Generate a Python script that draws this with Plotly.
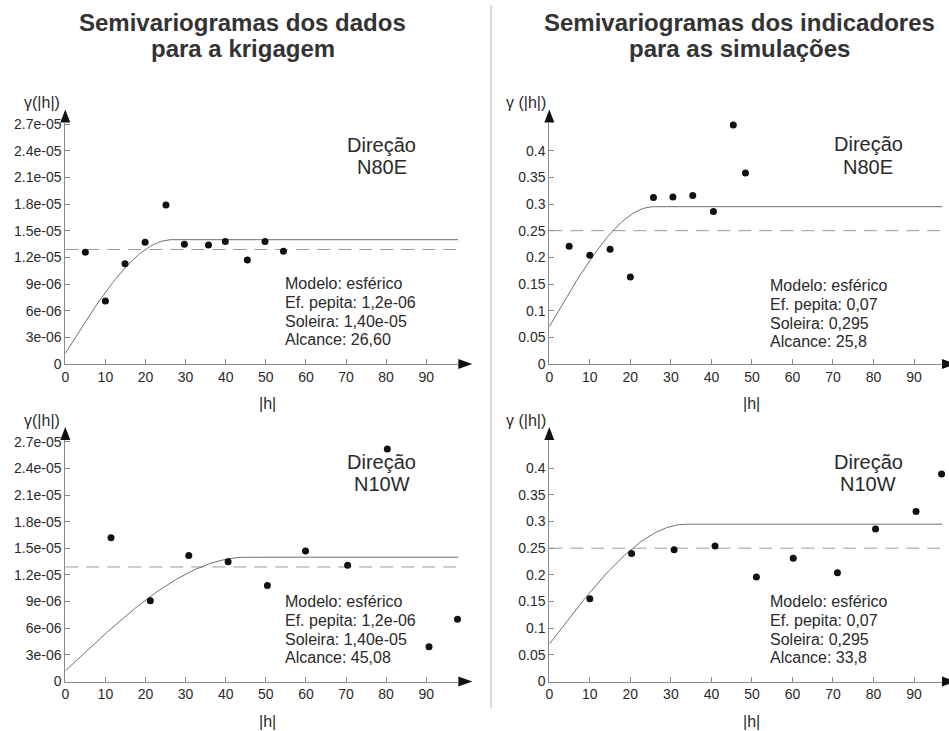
import plotly.graph_objects as go

W, H = 949, 731

# ---------------- data ----------------
x_ticks = [0, 10, 20, 30, 40, 50, 60, 70, 80, 90]
x_tick_labels = ["0", "10", "20", "30", "40", "50", "60", "70", "80", "90"]

y_ticks_dados = [0, 3e-06, 6e-06, 9e-06, 1.2e-05, 1.5e-05, 1.8e-05, 2.1e-05, 2.4e-05, 2.7e-05]
y_labels_dados = ["0", "3e-06", "6e-06", "9e-06", "1.2e-05", "1.5e-05", "1.8e-05", "2.1e-05", "2.4e-05", "2.7e-05"]
y_ticks_ind = [0, 0.05, 0.1, 0.15, 0.2, 0.25, 0.3, 0.35, 0.4]
y_labels_ind = ["0", "0.05", "0.1", "0.15", "0.2", "0.25", "0.3", "0.35", "0.4"]

# top-left: dados, N80E
h_dados_n80e = [5.0, 10.0, 14.9, 19.9, 25.1, 29.7, 35.7, 39.9, 45.4, 49.8, 54.4]
g_dados_n80e = [12.6e-6, 7.1e-6, 11.3e-6, 13.7e-6, 17.9e-6, 13.5e-6, 13.4e-6, 13.8e-6, 11.7e-6, 13.8e-6, 12.7e-6]
# top-right: indicadores, N80E
h_ind_n80e = [4.9, 10.0, 15.0, 20.0, 25.7, 30.5, 35.4, 40.5, 45.4, 48.4]
g_ind_n80e = [0.221, 0.204, 0.215, 0.163, 0.312, 0.313, 0.316, 0.286, 0.448, 0.358]
# bottom-left: dados, N10W
h_dados_n10w = [11.4, 21.2, 30.8, 40.6, 50.4, 59.9, 70.4, 80.3, 90.7, 97.8]
g_dados_n10w = [16.2e-6, 9.1e-6, 14.2e-6, 13.5e-6, 10.8e-6, 14.7e-6, 13.1e-6, 26.2e-6, 3.9e-6, 7.0e-6]
# bottom-right: indicadores, N10W
h_ind_n10w = [10.0, 20.3, 30.8, 40.9, 51.1, 60.2, 71.1, 80.5, 90.5, 96.8]
g_ind_n10w = [0.155, 0.240, 0.247, 0.254, 0.196, 0.231, 0.204, 0.286, 0.319, 0.389]

# spherical model parameters [nugget, sill, range] and sample variance (dashed)
model_dados_n80e = [1.2e-06, 1.40e-05, 26.60]
model_ind_n80e = [0.07, 0.295, 25.8]
model_dados_n10w = [1.2e-06, 1.40e-05, 45.08]
model_ind_n10w = [0.07, 0.295, 33.8]
var_dados = 1.29e-05
var_ind = 0.25

model_text_dados_n80e = ["Modelo: esférico", "Ef. pepita: 1,2e-06", "Soleira: 1,40e-05", "Alcance: 26,60"]
model_text_ind_n80e = ["Modelo: esférico", "Ef. pepita: 0,07", "Soleira: 0,295", "Alcance: 25,8"]
model_text_dados_n10w = ["Modelo: esférico", "Ef. pepita: 1,2e-06", "Soleira: 1,40e-05", "Alcance: 45,08"]
model_text_ind_n10w = ["Modelo: esférico", "Ef. pepita: 0,07", "Soleira: 0,295", "Alcance: 33,8"]

titles_left = ["Semivariogramas dos dados", "para a krigagem"]
titles_right = ["Semivariogramas dos indicadores", "para as simulações"]

# ---------------- helpers ----------------
def px(x):
    return x / W

def py(y):
    return 1 - y / H

def spherical(params, xmax, n=200):
    c0, c, a = params
    hs = [xmax * i / (n - 1) for i in range(n)]
    g = []
    for h in hs:
        if h < a:
            r = h / a
            g.append(c0 + (c - c0) * (1.5 * r - 0.5 * r ** 3))
        else:
            g.append(c)
    return hs, g

FONT = "Liberation Sans, Arial, sans-serif"
TXT = "#2a2a2a"
AXC = "#8a8a8a"

panels = [
    dict(ax="", x0=65.3, x1=458.3, yb=364.0, yt=122.5, xr=98.0, yr=27.2e-6,
         h=h_dados_n80e, g=g_dados_n80e, m=model_dados_n80e, v=var_dados,
         yt_vals=y_ticks_dados, yt_lab=y_labels_dados, ytitle="γ(|h|)",
         dirn="N80E", mtext=model_text_dados_n80e, mx=282.7, my=[283.3, 302.3, 321.2, 340.0],
         dy=[145.0, 167.3], dxc=381.7),
    dict(ax="2", x0=549.3, x1=942.0, yb=364.0, yt=122.5, xr=96.9, yr=(364.0 - 122.5) / 533.3,
         h=h_ind_n80e, g=g_ind_n80e, m=model_ind_n80e, v=var_ind,
         yt_vals=y_ticks_ind, yt_lab=y_labels_ind, ytitle="γ (|h|)",
         dirn="N80E", mtext=model_text_ind_n80e, mx=768.3, my=[285.0, 304.0, 323.3, 341.7],
         dy=[144.0, 166.7], dxc=868.3),
    dict(ax="3", x0=65.3, x1=458.3, yb=681.5, yt=440.0, xr=98.0, yr=27.2e-6,
         h=h_dados_n10w, g=g_dados_n10w, m=model_dados_n10w, v=var_dados,
         yt_vals=y_ticks_dados, yt_lab=y_labels_dados, ytitle="γ(|h|)",
         dirn="N10W", mtext=model_text_dados_n10w, mx=282.7, my=[601.0, 620.0, 639.0, 657.7],
         dy=[461.7, 484.0], dxc=381.7),
    dict(ax="4", x0=549.3, x1=942.0, yb=681.5, yt=440.0, xr=96.9, yr=(681.5 - 440.0) / 533.3,
         h=h_ind_n10w, g=g_ind_n10w, m=model_ind_n10w, v=var_ind,
         yt_vals=y_ticks_ind, yt_lab=y_labels_ind, ytitle="γ (|h|)",
         dirn="N10W", mtext=model_text_ind_n10w, mx=768.3, my=[601.0, 620.0, 639.0, 657.7],
         dy=[461.7, 484.0], dxc=868.3),
]

fig = go.Figure()
layout = dict(
    template="none",
    width=W, height=H, margin=dict(l=0, r=0, t=0, b=0, pad=0, autoexpand=False),
    paper_bgcolor="white", plot_bgcolor="white", showlegend=False,
    font=dict(family=FONT, color=TXT),
)
annotations = []
shapes = []

for p in panels:
    xa = "x" + p["ax"]
    ya = "y" + p["ax"]
    fig.add_trace(go.Scatter(x=[0, p["xr"]], y=[p["v"], p["v"]], mode="lines",
                             line=dict(color="#9a9a9a", width=1, dash="13px,8px"),
                             xaxis=xa, yaxis=ya, hoverinfo="skip", cliponaxis=False))
    hs, gm = spherical(p["m"], p["xr"])
    fig.add_trace(go.Scatter(x=hs, y=gm, mode="lines",
                             line=dict(color="#6f6f6f", width=1),
                             xaxis=xa, yaxis=ya, hoverinfo="skip", cliponaxis=False))
    fig.add_trace(go.Scatter(x=p["h"], y=p["g"], mode="markers",
                             marker=dict(color="#111111", size=7, line=dict(width=0)),
                             xaxis=xa, yaxis=ya, cliponaxis=False))

    xkey = "xaxis" + p["ax"]
    ykey = "yaxis" + p["ax"]
    layout[xkey] = dict(
        domain=[px(p["x0"]), px(p["x1"])], range=[0, p["xr"]], anchor=ya, automargin=False,
        tickvals=x_ticks, ticktext=x_tick_labels, ticks="inside", ticklen=5,
        tickcolor=AXC, showline=True, linecolor=AXC, linewidth=1,
        showgrid=False, zeroline=False, tickfont=dict(size=14, color=TXT),
    )
    layout[ykey] = dict(
        domain=[py(p["yb"]), py(p["yt"])], range=[0, p["yr"]], anchor=xa, automargin=False,
        tickvals=p["yt_vals"], ticktext=p["yt_lab"], ticks="inside", ticklen=5,
        tickcolor=AXC, showline=True, linecolor=AXC, linewidth=1,
        showgrid=False, zeroline=False, tickfont=dict(size=14, color=TXT),
    )

    xe, yb, x0, yt = p["x1"], p["yb"], p["x0"], p["yt"]
    shapes.append(dict(type="path", xref="paper", yref="paper",
                       path=f"M {px(xe)} {py(yb - 5)} L {px(xe + 14)} {py(yb)} L {px(xe)} {py(yb + 5)} Z",
                       fillcolor="#111111", line=dict(width=0)))
    shapes.append(dict(type="path", xref="paper", yref="paper",
                       path=f"M {px(x0 - 5)} {py(yt)} L {px(x0)} {py(yt - 13)} L {px(x0 + 5)} {py(yt)} Z",
                       fillcolor="#111111", line=dict(width=0)))

    annotations.append(dict(text=p["ytitle"], x=px(p["x0"] - 23), y=py(p["yt"] - 20),
                            xref="paper", yref="paper", showarrow=False,
                            font=dict(size=16, color=TXT), xanchor="center", yanchor="middle"))
    annotations.append(dict(text="|h|", x=px((p["x0"] + p["x1"] + 12) / 2), y=py(p["yb"] + 39.5),
                            xref="paper", yref="paper", showarrow=False,
                            font=dict(size=16, color=TXT), xanchor="center", yanchor="middle"))
    for txt, yy in zip(["Direção", p["dirn"]], p["dy"]):
        annotations.append(dict(text=txt, x=px(p["dxc"]), y=py(yy), xref="paper", yref="paper",
                                showarrow=False, font=dict(size=20, color=TXT),
                                xanchor="center", yanchor="middle"))
    for txt, yy in zip(p["mtext"], p["my"]):
        annotations.append(dict(text=txt, x=px(p["mx"]), y=py(yy), xref="paper", yref="paper",
                                showarrow=False, font=dict(size=16, color=TXT),
                                xanchor="left", yanchor="middle"))

for lines, xc in [(titles_left, 243), (titles_right, 739)]:
    for txt, yy in zip(lines, [22, 48]):
        annotations.append(dict(text=f"<b>{txt}</b>", x=px(xc), y=py(yy), xref="paper", yref="paper",
                                showarrow=False, font=dict(size=24, color="#333333"),
                                xanchor="center", yanchor="middle"))

shapes.append(dict(type="line", xref="paper", yref="paper", x0=px(491), x1=px(491),
                   y0=py(5), y1=py(708), line=dict(color="#cfcfcf", width=1.5)))

layout["annotations"] = annotations
layout["shapes"] = shapes
fig.update_layout(**layout)
fig.write_html("out.html", config={"displayModeBar": False},
               post_script="document.body.style.margin='0';document.body.style.overflow='hidden';")
